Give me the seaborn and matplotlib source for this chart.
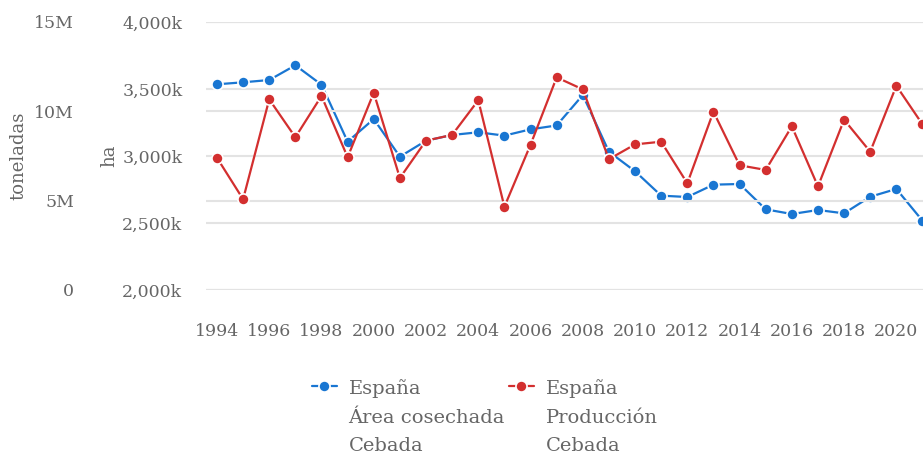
import pandas as pd
import seaborn as sns
import matplotlib.pyplot as plt
from matplotlib.ticker import FuncFormatter, MultipleLocator

# Data
years = list(range(1994, 2022))
area_ha = [3535, 3550, 3567, 3677, 3532, 3107, 3276, 2995, 3114, 3157,
           3177, 3152, 3199, 3228, 3455, 3032, 2886, 2704, 2694, 2786,
           2791, 2602, 2567, 2597, 2572, 2696, 2754, 2517]  # miles de ha
produccion_t = [7.40, 5.08, 10.67, 8.55, 10.86, 7.43, 11.04, 6.27, 8.36, 8.68,
                10.62, 4.66, 8.13, 11.90, 11.23, 7.32, 8.15, 8.30, 5.97, 9.98,
                6.98, 6.72, 9.16, 5.80, 9.53, 7.74, 11.43, 9.27]  # millones t
label_area = "España\nÁrea cosechada\nCebada"
label_prod = "España\nProducción\nCebada"

df = pd.DataFrame({
    'year': years,
    'area': [v * 1000 for v in area_ha],
    'prod': [v * 1e6 for v in produccion_t],
})

sns.set_style('white')
plt.rcParams['font.family'] = ['DejaVu Serif']
plt.rcParams['text.color'] = '#666666'

blue = '#1976d2'
red = '#d32f2f'
grid_c = '#e3e3e3'
txt_c = '#666666'
fs = 12.5

fig = plt.figure(figsize=(9.23, 4.54), dpi=100)
ax = fig.add_axes([206 / 923, 1 - 290 / 454, 740 / 923, 268 / 454])
ax2 = ax.twinx()

sns.lineplot(data=df, x='year', y='area', ax=ax, color=blue, marker='o',
             markersize=8, markeredgecolor='white', markeredgewidth=1.2,
             linewidth=1.6, label=label_area, legend=False)
sns.lineplot(data=df, x='year', y='prod', ax=ax2, color=red, marker='o',
             markersize=8, markeredgecolor='white', markeredgewidth=1.2,
             linewidth=1.6, label=label_prod, legend=False)

ax.set_xlim(1993.58, 2021.9)
ax.set_ylim(2_000_000, 4_000_000)
ax2.set_ylim(0, 15_000_000)

ax.xaxis.set_major_locator(MultipleLocator(2))
ax.yaxis.set_major_locator(MultipleLocator(500_000))
ax2.yaxis.set_major_locator(MultipleLocator(5_000_000))
ax.yaxis.set_major_formatter(FuncFormatter(lambda v, p: f"{v / 1000:,.0f}k"))
ax2.yaxis.set_major_formatter(
    FuncFormatter(lambda v, p: "0" if v == 0 else f"{v / 1e6:.0f}M"))

for a in (ax, ax2):
    a.grid(axis='y', color=grid_c, linewidth=1.5)
    a.set_axisbelow(True)
    for s in a.spines.values():
        s.set_visible(False)
    a.set_xlabel('')

ax.tick_params(axis='x', length=10, width=1, color='#d9d9d9', pad=14,
               labelsize=fs, labelcolor=txt_c)
ax.tick_params(axis='y', length=0, pad=17, labelsize=fs, labelcolor=txt_c)
ax2.yaxis.tick_left()
ax2.yaxis.set_label_position('left')
ax2.tick_params(axis='y', length=0, pad=95, labelsize=fs, labelcolor=txt_c)
ax2.tick_params(axis='x', bottom=False, labelbottom=False)

ax.set_ylabel('ha', fontsize=fs + 0.5, color=txt_c)
ax2.set_ylabel('toneladas', fontsize=fs + 0.5, color=txt_c)
ax.yaxis.set_label_coords(-0.119, 0.5)
ax2.yaxis.set_label_coords(-0.241, 0.5)

h1, l1 = ax.get_legend_handles_labels()
h2, l2 = ax2.get_legend_handles_labels()
leg = fig.legend(h1 + h2, l1 + l2, loc='upper left',
                 bbox_to_anchor=(294 / 923, 1 - 362 / 454), ncol=2,
                 frameon=False, fontsize=14, labelcolor=txt_c,
                 handlelength=1.3, handletextpad=0.6, columnspacing=0.2,
                 labelspacing=0.3)
for t in leg.get_texts():
    t.set_linespacing(1.72)
# put the marker next to the first line of each label
for col in leg._legend_handle_box.get_children():
    for row in col.get_children():
        row.align = 'top'

fig.savefig('out.png', dpi=100)
